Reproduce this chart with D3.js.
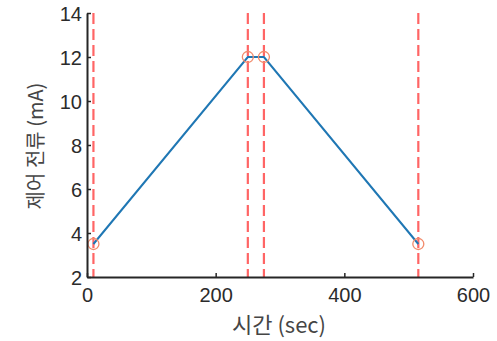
<html>
<head>
<style>
  body { margin: 0; background: #fff; }
  .tick text { font-family: "Liberation Sans", Arial, sans-serif; font-size: 20px; fill: #2b2b2b; }
  .lbl { font-family: "Noto Sans CJK KR", "Liberation Sans", sans-serif; fill: #454545; }
</style>
</head>
<body>
<svg width="497" height="341"></svg>
<script src="https://cdnjs.cloudflare.com/ajax/libs/d3/7.8.5/d3.min.js"></script>
<script>
// data
const times = [10, 250, 275, 515];
const currents = [3.5, 12, 12, 3.5];
const markers = [10, 250, 275, 515];
const xTicks = [0, 200, 400, 600];
const yTicks = [2, 4, 6, 8, 10, 12, 14];

const svg = d3.select("svg"),
    margin = {top: 13, right: 24, bottom: 64, left: 87},
    width = +svg.attr("width") - margin.left - margin.right,
    height = +svg.attr("height") - margin.top - margin.bottom;

const g = svg.append("g")
  .attr("transform", "translate(" + margin.left + "," + margin.top + ")");

const x = d3.scaleLinear().domain([0, 600]).range([0, width]);
const y = d3.scaleLinear().domain([2, 14]).range([height, 0]);

// red dashed markers
g.selectAll(".mark")
  .data(markers)
  .enter().append("line")
  .attr("x1", d => x(d)).attr("x2", d => x(d))
  .attr("y1", 0).attr("y2", height)
  .attr("stroke", "#ff4a4a")
  .attr("stroke-opacity", 0.85)
  .attr("stroke-width", 2.2)
  .attr("stroke-dasharray", "11,5");

const pts = times.map((t, i) => [t, currents[i]]);

g.append("path")
  .datum(pts)
  .attr("fill", "none")
  .attr("stroke", "#1f77b4")
  .attr("stroke-width", 2)
  .attr("d", d3.line().x(d => x(d[0])).y(d => y(d[1])));

g.selectAll(".pt")
  .data(pts)
  .enter().append("circle")
  .attr("cx", d => x(d[0])).attr("cy", d => y(d[1]))
  .attr("r", 5.5)
  .attr("fill", "none")
  .attr("stroke", "#f28b6b")
  .attr("stroke-width", 1.3);

const xAxis = g.append("g")
  .attr("transform", "translate(0," + height + ")")
  .call(d3.axisBottom(x).tickValues(xTicks).tickSize(-4).tickPadding(11).tickSizeOuter(0));
const yAxis = g.append("g")
  .call(d3.axisLeft(y).tickValues(yTicks).tickSize(-4).tickPadding(5).tickSizeOuter(0));

[xAxis, yAxis].forEach(a => {
  a.select(".domain").attr("stroke", "#262626").attr("stroke-width", 2);
  a.selectAll(".tick line").attr("stroke", "#262626").attr("stroke-width", 1.5);
});
yAxis.selectAll(".tick text").attr("dy", "0.36em");

svg.append("text")
  .attr("class", "lbl")
  .attr("x", 279)
  .attr("y", 333)
  .attr("font-size", 22)
  .attr("text-anchor", "middle")
  .text("시간 (sec)");

svg.append("text")
  .attr("class", "lbl")
  .attr("font-size", 20)
  .attr("transform", "translate(43,146) rotate(-90)")
  .attr("text-anchor", "middle")
  .text("제어 전류 (mA)");
</script>
</body>
</html>
